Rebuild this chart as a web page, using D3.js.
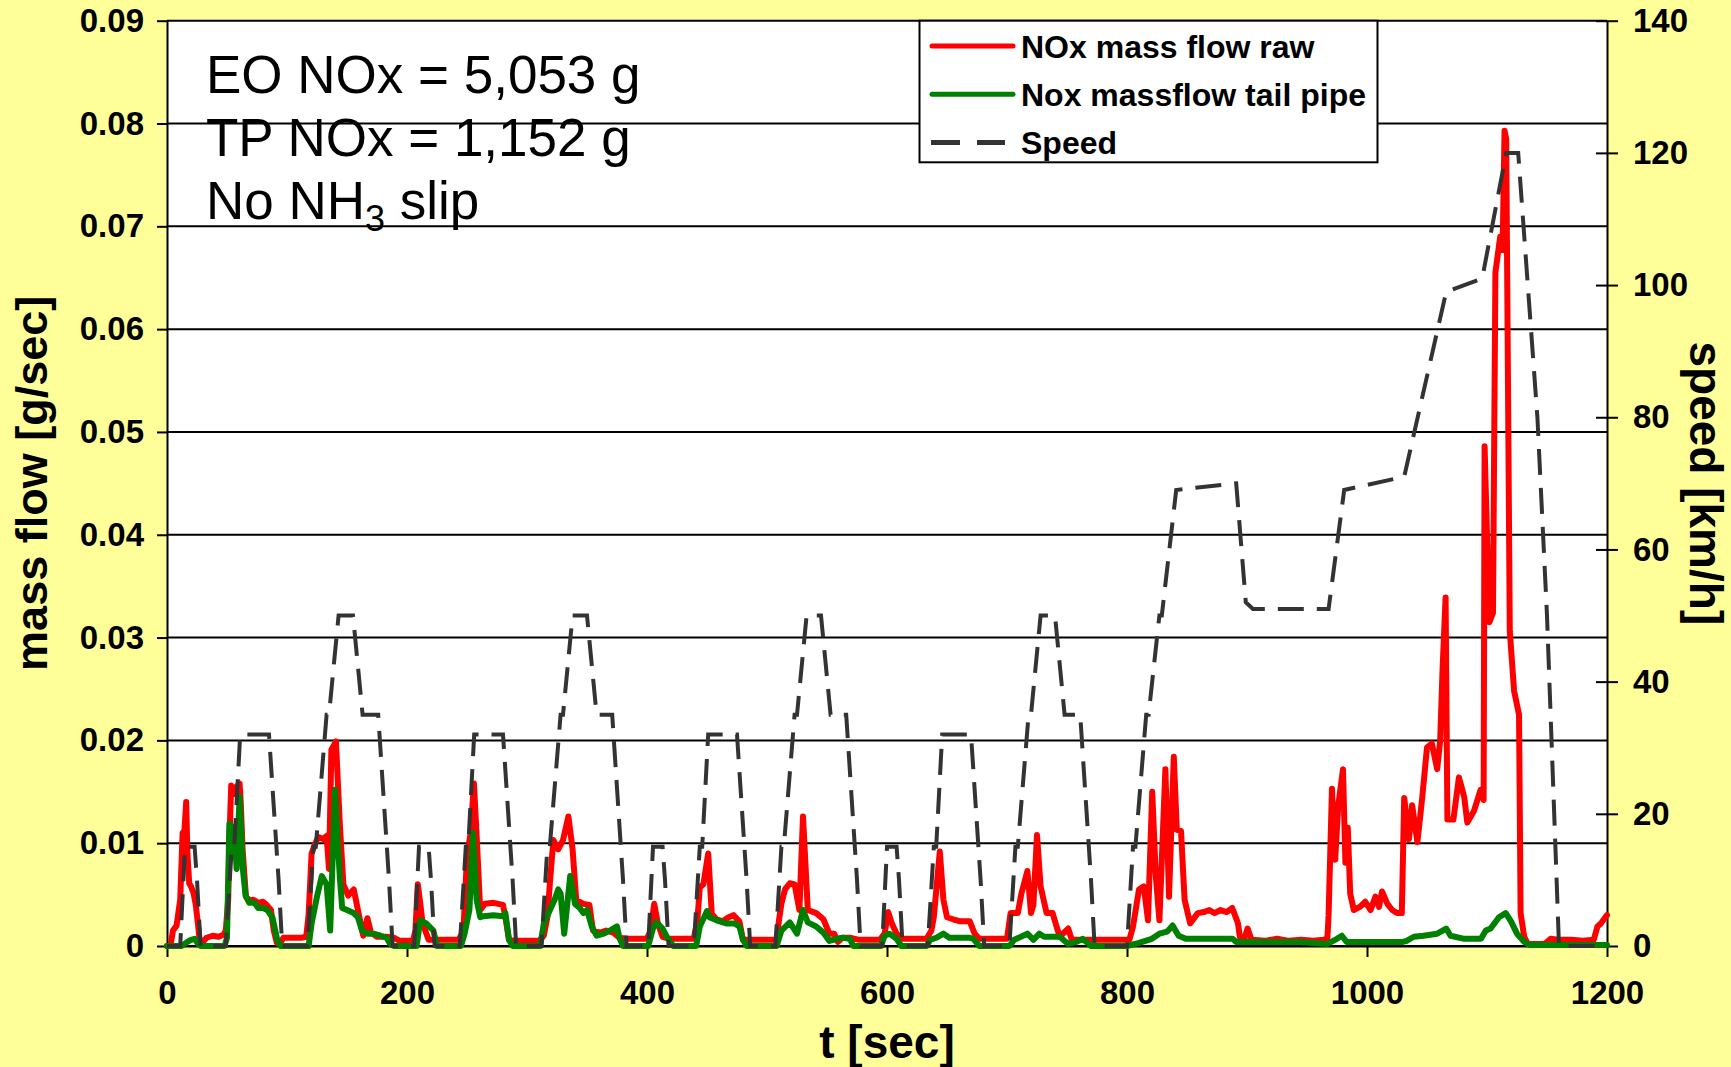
<!DOCTYPE html>
<html>
<head>
<meta charset="utf-8">
<script src="https://cdn.jsdelivr.net/npm/d3@7"></script>
<style>
  body { margin: 0; background: #ffff99; }
  svg { display: block; font-family: "Liberation Sans", Arial, sans-serif; }
</style>
</head>
<body>
<svg id="chart"></svg>
<script>
// values: [t in s, value]
const noxRaw = [
  [0,0],[3,0.0001],[5,0.0015],[8,0.002],[11,0.0045],[13,0.011],[14.5,0.0112],[16,0.014],[17,0.009],[18.5,0.0061],[20,0.0058],[22,0.0052],[24,0.004],[26,0.0019],[27.5,0.0002],[30,0.0004],[33,0.0008],[38,0.001],[43,0.0009],[47,0.0011],[49,0.0015],
  [51,0.0045],[52,0.0103],[53.5,0.0156],[56,0.0148],[57.8,0.0155],[60.5,0.0158],[61.5,0.0139],[63,0.0094],[65.8,0.0048],[68.6,0.0044],[72,0.0045],[76,0.0042],[80,0.0043],[83,0.004],[86.6,0.0035],[89,0.0015],[91.5,0.0003],[94,0.0002],[97,0.0008],[105,0.0008],[112,0.0008],[116,0.0009],
  [118,0.003],[120.5,0.009],[123,0.0098],[126,0.0106],[130,0.0104],[133,0.0107],[135,0.0075],[137,0.0191],[140.8,0.0199],[144,0.0119],[147,0.006],[151,0.0049],[155.6,0.0055],[160,0.003],[163.5,0.001],[167,0.0027],[170,0.0013],[175,0.0009],[183,0.0009],[189,0.0008],[194,0.0005],[205,0.0005],
  [207,0.0015],[209,0.006],[211,0.0042],[213,0.0022],[218,0.0006],[230,0.0006],[243,0.0006],[247,0.0015],[250,0.0087],[253,0.011],[255.8,0.0158],[258.6,0.0094],[261,0.0035],[265,0.0041],[272,0.0042],[280,0.004],[282,0.0028],[285,0.0006],[290,0.0005],[310,0.0005],
  [314,0.001],[317,0.0028],[319,0.006],[322,0.0103],[326,0.0094],[330,0.0103],[334.5,0.0126],[338,0.0094],[341,0.0045],[347,0.0041],[352,0.004],[355,0.0015],[361,0.0013],[366,0.0015],[372,0.0013],[377,0.0008],[383,0.0007],[400,0.0007],
  [403,0.0015],[406,0.0041],[409,0.0022],[413,0.0009],[419,0.0007],[439,0.0007],[442,0.0025],[444,0.0057],[447,0.006],[451,0.009],[454,0.0031],[458,0.0026],[463,0.0024],[468,0.0028],[472,0.003],[477,0.0024],[480,0.0006],[495,0.0006],[508,0.0006],
  [510,0.0025],[512,0.0041],[515,0.0055],[519,0.0061],[523,0.006],[527,0.0035],[530,0.0126],[534,0.0035],[541,0.0032],[547,0.0026],[552,0.0012],[556,0.0012],[559,0.0004],[563,0.0008],[569,0.0008],[577,0.0006],[594,0.0006],
  [598,0.0012],[601,0.0033],[604,0.0022],[608,0.0012],[613,0.0007],[633,0.0007],[637,0.0015],[639,0.0028],[644,0.0092],[647,0.0045],[650,0.0028],[655,0.0026],[661,0.0024],[669,0.0024],[673,0.0012],[677,0.0007],[700,0.0007],
  [703,0.0032],[709,0.0032],[712,0.0051],[717,0.0073],[720,0.0032],[722,0.004],[725,0.0108],[728,0.0058],[733,0.0032],[738,0.0032],[741,0.002],[744,0.0009],[751,0.0017],[754,0.0006],[773,0.0006],[798,0.0006],
  [802,0.0006],[805,0.0019],[810,0.0055],[814,0.0058],[817.5,0.0025],[821,0.015],[824,0.0068],[827,0.0025],[832,0.0172],[835,0.0048],[839,0.0184],[841.5,0.0113],[845,0.0112],[848,0.0045],[852.6,0.0022],[859,0.0032],[864,0.0033],[868.6,0.0035],[873,0.0032],[878,0.0035],[883,0.0033],[887.7,0.0037],[892.5,0.0022],[894,0.0009],[898,0.0008],[900.5,0.0017],[903.7,0.0006],
  [915,0.0005],[925,0.0007],[935,0.0005],[945,0.0006],[955,0.0005],[964,0.0006],[967,0.0008],[968,0.003],[970.8,0.0153],[973.5,0.0084],[976,0.0136],[980,0.0172],[982,0.0081],[984,0.0115],[986,0.0051],[989,0.0035],[994,0.0038],[998.6,0.0043],[1003,0.0035],[1007,0.0048],[1010,0.0038],[1012.5,0.0053],[1017,0.0041],[1021,0.0035],[1025,0.0032],[1029,0.0032],
  [1031,0.0144],[1035,0.0104],[1037.6,0.0137],[1042,0.0101],[1046,0.0144],[1050,0.0193],[1054,0.0197],[1058.5,0.0172],[1061,0.02],[1063,0.027],[1065.5,0.0339],[1067,0.0123],[1072,0.0123],[1076.6,0.0164],[1081,0.0145],[1083.6,0.012],[1089,0.0131],[1094.7,0.0152],[1097.2,0.0142],
  [1098,0.0486],[1100,0.04],[1102,0.0315],[1105,0.0324],[1107,0.0655],[1111,0.069],[1113,0.0677],[1114.6,0.0793],[1116,0.0785],[1119,0.0306],[1122.6,0.0248],[1126.7,0.0225],[1128,0.0032],[1131,0.0009],[1134,0.0002],[1148,0.0002],[1153,0.0007],[1159,0.0006],[1170,0.0006],[1180,0.0005],[1189,0.0006],[1192,0.0019],[1195,0.0022],[1198,0.0027],[1200,0.003]
];

const noxTailpipe = [
  [0,0],[12,0],[17,0.0004],[20,0.0006],[23,0.0007],[26,0.0002],[28,0],[48,0],[50,0.0008],[52,0.0119],[54,0.009],[56,0.0116],[58,0.0075],[60.5,0.0145],[63.3,0.0074],[65.5,0.0049],[68.6,0.0042],[72.8,0.0042],[76,0.0037],[80,0.0037],[83.6,0.0035],[87.8,0.0028],[91.9,0.0006],[94.7,0],
  [118,0],[120.5,0.0022],[125,0.0048],[129,0.0068],[133,0.006],[136,0.0015],[140,0.0152],[144,0.0067],[146,0.0037],[150,0.0035],[155.6,0.0032],[159,0.0028],[162.5,0.0015],[167,0.0012],[172,0.0012],[178,0.001],[183,0.0008],[186,0.0002],[189,0],
  [208,0],[211,0.0025],[216,0.0022],[222,0.0015],[225,0],[245,0],[248,0.0012],[252,0.0035],[255,0.011],[258,0.0045],[261,0.0028],[264,0.0029],[272,0.003],[280,0.0029],[282,0.0032],[285,0.0006],[288,0],
  [311,0],[314,0.0022],[318,0.0032],[323,0.0045],[326,0.0055],[328,0.0051],[331,0.0012],[336,0.0068],[340,0.0041],[344,0.0037],[347,0.0032],[350,0.0035],[354,0.0019],[358,0.001],[364,0.0012],[369,0.0015],[375,0.0019],[377,0.0008],[380,0],
  [401,0],[405,0.0017],[408,0.0023],[413,0.0017],[417,0.0008],[422,0],[441,0],[444,0.0019],[450,0.0034],[452,0.0028],[458,0.0025],[466,0.0022],[473,0.0022],[477,0.0019],[480,0.0006],[483,0],
  [508,0],[512,0.0015],[519,0.0023],[525,0.0012],[530,0.0035],[534,0.0023],[541,0.0019],[547,0.0013],[552,0.0005],[558,0.0007],[563,0.0008],[569,0.0007],[572,0],
  [595,0],[598,0.001],[602,0.0012],[608,0.0007],[612,0],[633,0],[636,0.0006],[641,0.0008],[647,0.0012],[652,0.0008],[669,0.0008],[672,0.0007],[677,0],
  [702,0],[706,0.0006],[717,0.0012],[722,0.0006],[727,0.0012],[731,0.0009],[744,0.0009],[751,0.0002],[758,0.0004],[763,0.0007],[770,0],
  [800,0],[810,0.0003],[820.7,0.0007],[827,0.0012],[833.5,0.0014],[838,0.002],[843,0.001],[849,0.0007],[888,0.0007],[891,0.0004],[944,0.0004],[967,0.0002],[975,0.0007],[979,0.001],[983,0.0004],[1030,0.0004],
  [1033,0.0005],[1039,0.0009],[1047,0.001],[1058.5,0.0012],[1063,0.0015],[1066,0.0017],[1069.6,0.001],[1081,0.0007],[1095,0.0007],[1099,0.0015],[1103,0.0017],[1110,0.0028],[1115.6,0.0032],[1120,0.0024],[1125,0.0012],[1131,0.0004],[1136,0.0001],[1200,0.0001]
];

// [t in s, km/h]
const speed = [
  [0,0],[11,0],[15,15],[23,15],[25,10],[28,0],[49,0],[54,15],[56,15],[61,32],[85,32],[93,10],[96,0],[117,0],[122,15],[124,15],[133,35],[135,35],[143,50],[155,50],[163,35],[176,35],[185,10],[188,0],
  [206,0],[210,15],[218,15],[220,10],[223,0],[244,0],[249,15],[251,15],[256,32],[280,32],[288,10],[291,0],[312,0],[317,15],[319,15],[328,35],[330,35],[338,50],[350,50],[358,35],[371,35],[380,10],[383,0],
  [401,0],[405,15],[413,15],[415,10],[418,0],[439,0],[444,15],[446,15],[451,32],[475,32],[483,10],[486,0],[507,0],[512,15],[514,15],[523,35],[525,35],[533,50],[545,50],[553,35],[566,35],[575,10],[578,0],
  [596,0],[600,15],[608,15],[610,10],[613,0],[634,0],[639,15],[641,15],[646,32],[670,32],[678,10],[681,0],[702,0],[707,15],[709,15],[718,35],[720,35],[728,50],[740,50],[748,35],[761,35],[770,10],[773,0],
  [800,0],[805,15],[807,15],[816,35],[818,35],[827,50],[829,50],[841,69],[891,70],[899,52],[905,51],[968,51],[981,69],[1031,71],[1066,99],[1096,101],[1116,120],[1126,120],[1142,80],[1150,50],[1160,0],[1200,0]
];

const xTicks = [0, 200, 400, 600, 800, 1000, 1200];
const yTicks = [0, 0.01, 0.02, 0.03, 0.04, 0.05, 0.06, 0.07, 0.08, 0.09];
const y2Ticks = [0, 20, 40, 60, 80, 100, 120, 140];
const seriesNames = ["NOx mass flow raw", "Nox massflow tail pipe", "Speed"];
const notes = ["EO NOx = 5,053 g", "TP NOx = 1,152 g"];

const W = 1731, H = 1067;
const svg = d3.select("#chart").attr("width", W).attr("height", H);

const plotL = 167, plotR = 1607, plotT = 20.7, plotB = 946;

const x = d3.scaleLinear().domain([0, 1200]).range([plotL, plotR]);
const y = d3.scaleLinear().domain([0, 0.09]).range([plotB, plotT]);
const y2 = d3.scaleLinear().domain([0, 140]).range([plotB, plotT]);

svg.append("rect").attr("width", W).attr("height", H).attr("fill", "#ffff99");
svg.append("rect")
  .attr("x", plotL).attr("y", plotT)
  .attr("width", plotR - plotL).attr("height", plotB - plotT)
  .attr("fill", "#fff");

// gridlines
svg.append("g").selectAll("line").data(yTicks).join("line")
  .attr("x1", plotL).attr("x2", plotR)
  .attr("y1", d => y(d)).attr("y2", d => y(d))
  .attr("stroke", "#000").attr("stroke-width", 2);

const tickFont = g => g.selectAll("text")
  .attr("fill", "#000").style("font-size", "33px").style("font-weight", "bold");

const axisL = svg.append("g").attr("transform", `translate(${plotL},0)`)
  .call(d3.axisLeft(y).tickValues(yTicks).tickSize(10).tickSizeOuter(0).tickPadding(13)
    .tickFormat(d => d === 0 ? "0" : d3.format(".2f")(d)));
axisL.call(tickFont);

const axisR = svg.append("g").attr("transform", `translate(${plotR},0)`)
  .call(d3.axisRight(y2).tickValues(y2Ticks).tickSize(11).tickSizeOuter(0).tickPadding(15));
axisR.selectAll(".tick line").attr("x1", -11);
axisR.call(tickFont);

const axisB = svg.append("g").attr("transform", `translate(0,${plotB})`)
  .call(d3.axisBottom(x).tickValues(xTicks).tickSize(11).tickSizeOuter(0).tickPadding(24)
    .tickFormat(d3.format("d")));
axisB.call(tickFont);

[axisL, axisR, axisB].forEach(g => {
  g.selectAll(".domain").attr("stroke", "#000").attr("stroke-width", 2);
  g.selectAll(".tick line").attr("stroke", "#000").attr("stroke-width", 2);
});

// series
const line = d3.line().x(d => x(d[0])).y(d => y(d[1]));
const line2 = d3.line().x(d => x(d[0])).y(d => y2(d[1]));

svg.append("path").datum(noxRaw).attr("d", line)
  .attr("fill", "none").attr("stroke", "#ff0000").attr("stroke-width", 6)
  .attr("stroke-linejoin", "round").attr("stroke-linecap", "round");

svg.append("path").datum(noxTailpipe).attr("d", line)
  .attr("fill", "none").attr("stroke", "#008000").attr("stroke-width", 6)
  .attr("stroke-linejoin", "round").attr("stroke-linecap", "round");

svg.append("path").datum(speed).attr("d", line2)
  .attr("fill", "none").attr("stroke", "#333").attr("stroke-width", 4)
  .attr("stroke-dasharray", "26,13");

// annotation
const note = svg.append("g").style("font-size", "53px").attr("fill", "#000");
notes.forEach((t, i) => {
  note.append("text").attr("x", 206).attr("y", 93 + i * 63).text(t);
});
const nh3 = note.append("text").attr("x", 206).attr("y", 219);
nh3.append("tspan").text("No NH");
nh3.append("tspan").attr("dy", 12).style("font-size", "36px").text("3");
nh3.append("tspan").attr("dy", -12).text(" slip");

// legend
const lg = svg.append("g");
lg.append("rect")
  .attr("x", 919.5).attr("y", plotT).attr("width", 458).attr("height", 141.6)
  .attr("fill", "#fff").attr("stroke", "#000").attr("stroke-width", 2);

const legendStyle = [
  { color: "#ff0000", dash: null, cap: "round" },
  { color: "#008000", dash: null, cap: "round" },
  { color: "#333", dash: "29,17", cap: "butt" }
];
seriesNames.forEach((name, i) => {
  const cy = 46 + i * 48.3;
  lg.append("line")
    .attr("x1", i === 2 ? 931 : 932).attr("x2", i === 2 ? 1005 : 1013)
    .attr("y1", cy).attr("y2", cy)
    .attr("stroke", legendStyle[i].color).attr("stroke-width", 5)
    .attr("stroke-linecap", legendStyle[i].cap)
    .attr("stroke-dasharray", legendStyle[i].dash);
  lg.append("text")
    .attr("x", 1021).attr("y", cy + 11.5)
    .style("font-size", "32px").style("font-weight", "bold").attr("fill", "#000")
    .text(name);
});

// axis titles
svg.append("text")
  .attr("transform", `translate(47,${(plotT + plotB) / 2}) rotate(-90)`)
  .attr("text-anchor", "middle")
  .style("font-size", "45px").style("font-weight", "bold")
  .text("mass flow [g/sec]");

svg.append("text")
  .attr("transform", `translate(1690,${(plotT + plotB) / 2}) rotate(90)`)
  .attr("text-anchor", "middle")
  .style("font-size", "46px").style("font-weight", "bold")
  .text("speed [km/h]");

svg.append("text")
  .attr("x", (plotL + plotR) / 2).attr("y", 1058)
  .attr("text-anchor", "middle")
  .style("font-size", "46px").style("font-weight", "bold")
  .text("t [sec]");
</script>
</body>
</html>
